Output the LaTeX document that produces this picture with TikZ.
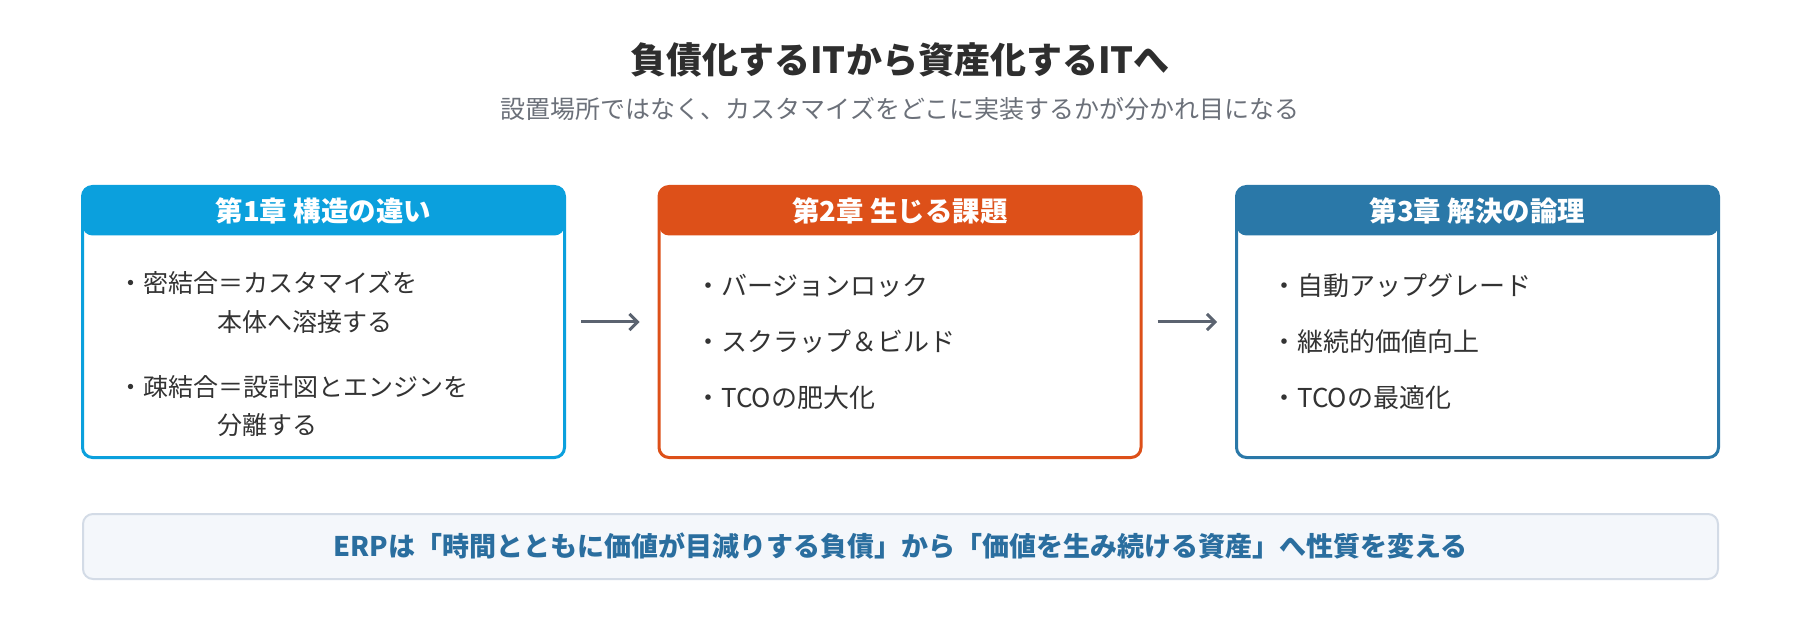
\documentclass[tikz,border=0pt]{standalone}
\usepackage{fontspec}
\setmainfont{Noto Sans CJK JP}
\usetikzlibrary{arrows.meta}
\usetikzlibrary{positioning}
\definecolor{chblue}{HTML}{0BA0DD}
\definecolor{chorange}{HTML}{DD5019}
\definecolor{chnavy}{HTML}{2A78A8}
\definecolor{titlegray}{HTML}{2E2E2E}
\definecolor{subgray}{HTML}{6B7079}
\definecolor{bodygray}{HTML}{333333}
\definecolor{arrowgray}{HTML}{5B6370}
\definecolor{notefill}{HTML}{F4F7FB}
\definecolor{noteline}{HTML}{D3DBE6}
\definecolor{notetext}{HTML}{2A6E9F}
\tikzset{
  panel/.style={draw=#1, fill=white, line width=3pt, rounded corners=10pt,
    minimum width=482pt, minimum height=271pt, inner sep=0pt,
    path picture={\fill[#1] (path picture bounding box.north west) rectangle ([yshift=-49pt]path picture bounding box.north east);}},
  paneltitle/.style={text=white, inner sep=0pt, font=\fontsize{27.5}{32}\selectfont\bfseries},
  item/.style={anchor=west, inner sep=0pt, text=bodygray, font=\fontsize{26}{30}\selectfont},
  flow/.style={draw=arrowgray, line width=3pt, -{Straight Barb[length=8pt,width=16pt]},
    shorten <=15pt, shorten >=18pt}
}
\begin{document}
\begin{tikzpicture}[x=1pt, y=-1pt]
		\useasboundingbox (0, 0) rectangle (1800, 620);
		\node[inner sep=0pt, text=titlegray, font=\fontsize{36}{42}\selectfont\bfseries] (title) at (900, 60) {負債化するITから資産化するITへ};
		\node[inner sep=0pt, text=subgray, font=\fontsize{25}{30}\selectfont] (subtitle) at (900, 109) {設置場所ではなく、カスタマイズをどこに実装するかが分かれ目になる};
		\node[panel=chblue] (ch1) at (323.5, 322) {};
		\node[panel=chorange] (ch2) at (900, 322) {};
		\node[panel=chnavy] (ch3) at (1477.5, 322) {};
		\node[paneltitle] (ch1 title) at (323.5, 211) {第1章 構造の違い};
		\node[paneltitle] (ch2 title) at (900, 211) {第2章 生じる課題};
		\node[paneltitle] (ch3 title) at (1477.5, 211) {第3章 解決の論理};
		\node[item, font=\fontsize{25}{30}\selectfont] (ch1 a) at (118, 283) {・密結合＝カスタマイズを};
		\node[item, font=\fontsize{25}{30}\selectfont] (ch1 a2) at (217, 322) {本体へ溶接する};
		\node[item, font=\fontsize{25}{30}\selectfont] (ch1 b) at (118, 387) {・疎結合＝設計図とエンジンを};
		\node[item, font=\fontsize{25}{30}\selectfont] (ch1 b2) at (217, 425) {分離する};
		\node[item] (ch2 a) at (695, 286) {・バージョンロック};
		\node[item] (ch2 b) at (695, 342) {・スクラップ＆ビルド};
		\node[item] (ch2 c) at (695, 398) {・TCOの肥大化};
		\node[item] (ch3 a) at (1271, 286) {・自動アップグレード};
		\node[item] (ch3 b) at (1271, 342) {・継続的価値向上};
		\node[item] (ch3 c) at (1271, 398) {・TCOの最適化};
		\draw[flow] (ch1) -- (ch2);
		\draw[flow] (ch2) -- (ch3);
		\node[draw=noteline, fill=notefill, line width=2pt, rounded corners=10pt, minimum width=1635pt, minimum height=65pt,
			text=notetext, font=\fontsize{27}{32}\selectfont\bfseries] (note) at (900.5, 546.5) {ERPは「時間とともに価値が目減りする負債」から「価値を生み続ける資産」へ性質を変える};
	\end{tikzpicture}
\end{document}
